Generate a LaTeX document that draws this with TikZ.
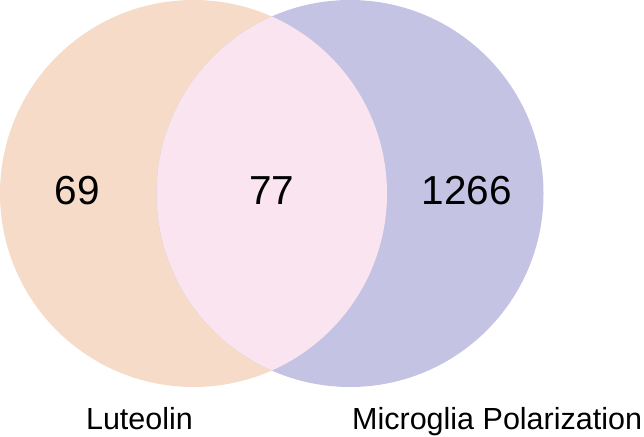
\documentclass[tikz,border=0pt]{standalone}
\usepackage{fontspec}
\setmainfont{Liberation Sans}
\definecolor{lutcol}{HTML}{F5DBC8}
\definecolor{mpcol}{HTML}{C5C3E3}
\definecolor{bothcol}{HTML}{F9E4F0}
\begin{document}
\begin{tikzpicture}[x=1pt,y=-1pt,
  num/.style={font=\fontsize{40.5}{48}\selectfont, anchor=base, inner sep=0pt},
  setlabel/.style={font=\fontsize{30.5}{36}\selectfont, inner sep=0pt}]
\useasboundingbox (0,0) rectangle (644,436);
\fill[lutcol] (193.5,193.5) circle (193.5);
\fill[mpcol] (350,193.5) circle (193.5);
\begin{scope}
  \clip (193.5,193.5) circle (193.5);
  \fill[bothcol] (350,193.5) circle (193.5);
\end{scope}
\node[num] (n69) at (77.5,204) {69};
\node[num] (n77) at (272,204) {77};
\node[num] (n1266) at (467,204) {1266};
\node[setlabel, anchor=base] (lut) at (139.5,429) {Luteolin};
\node[setlabel, anchor=base west] (mp) at (352,429) {Microglia Polarization};
\end{tikzpicture}
\end{document}
